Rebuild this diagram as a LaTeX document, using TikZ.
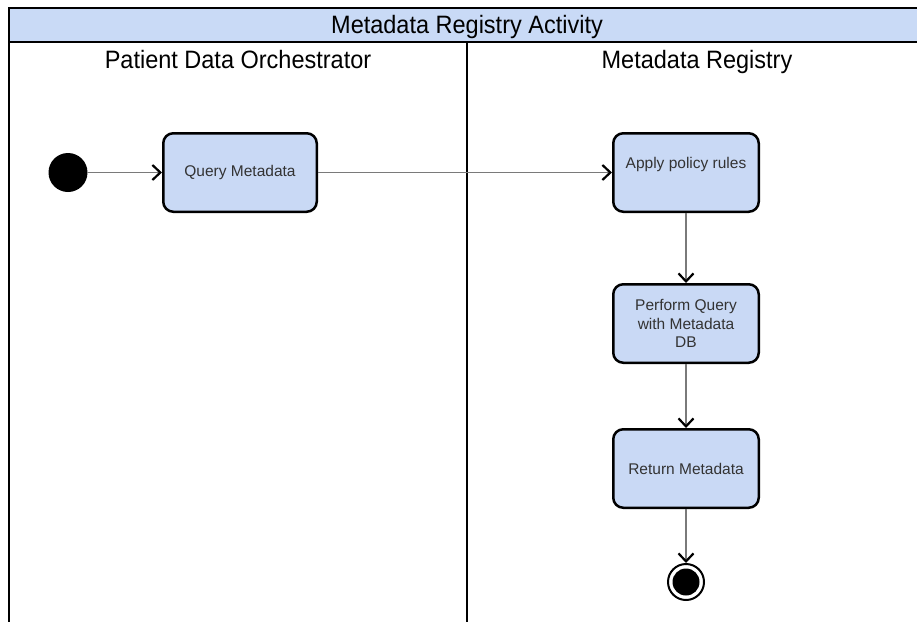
\documentclass[tikz,border=0pt]{standalone}
\usepackage{fontspec}
\setmainfont{Liberation Sans}
\usetikzlibrary{arrows.meta}
\definecolor{actfill}{HTML}{C9D9F5}
\definecolor{hdrfill}{HTML}{C9DAF6}
\definecolor{txtgray}{HTML}{333333}
\definecolor{flowgray}{HTML}{7A7A7A}
\newcommand{\tallt}[1]{\scalebox{1}[1.07]{#1}}
\tikzset{
  act/.style={draw=black, line width=2.5pt, rounded corners=10pt, fill=actfill,
    text=txtgray, align=center, font=\fontsize{15.5}{18.5}\selectfont},
  title/.style={anchor=base, text=black, inner sep=0pt, font=\fontsize{23.5}{28}\selectfont},
  flow/.style={draw=flowgray, line width=1.5pt,
    -{Straight Barb[length=8pt,width=15pt,line width=2.2pt,color=black]}},
  frameline/.style={draw=black, line width=2pt}
}
\begin{document}
\begin{tikzpicture}[x=1pt,y=-1pt]
\useasboundingbox (0,0) rectangle (917,621);
\clip (0,0) rectangle (917,621);
% swimlane frame
\fill[hdrfill] (9,8) rectangle (940,42);
\draw[frameline] (940,8) -- (9,8) -- (9,640);
\draw[frameline] (9,42) -- (940,42);
\draw[frameline] (467,42) -- (467,640);
\node[title] (hdr) at (467,33) {\tallt{Metadata Registry Activity}};
\node[title] (lane1) at (238,68) {\tallt{Patient Data Orchestrator}};
\node[title] (lane2) at (697,68) {\tallt{Metadata Registry}};
% nodes
\node[circle, fill=black, minimum size=39pt, inner sep=0pt] (init) at (68,172.5) {};
\node[act, minimum width=153.5pt, minimum height=78.5pt] (query) at (240,172.5) {Query Metadata};
\node[act, minimum width=145.5pt, minimum height=78.5pt] (apply) at (686,172.5) {\raisebox{20pt}{Apply policy rules}};
\node[act, minimum width=145.5pt, minimum height=78.5pt] (perform) at (686,323.5) {Perform Query\\with Metadata\\DB};
\node[act, minimum width=145.5pt, minimum height=78.5pt] (return) at (686,468.5) {Return Metadata};
\node[circle, draw=black, line width=2pt, fill=white, minimum size=36pt, inner sep=0pt] (final) at (686,582) {};
\node[circle, fill=black, minimum size=27pt, inner sep=0pt] (finalin) at (final.center) {};
% flows
\draw[flow] (init) -- (query);
\draw[flow] (query) -- (apply);
\draw[flow] (apply) -- (perform);
\draw[flow] (perform) -- (return);
\draw[flow] (return) -- (final);
\end{tikzpicture}
\end{document}
